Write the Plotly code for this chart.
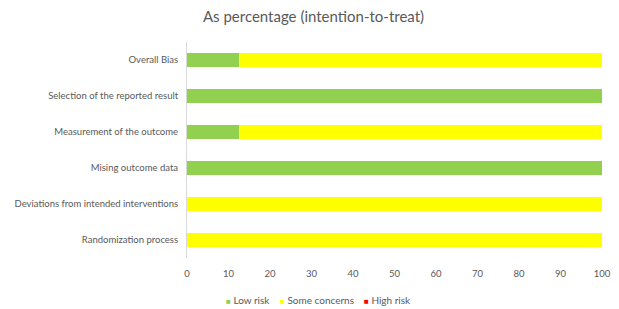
import plotly.graph_objects as go

categories = ["Randomization process", "Deviations from intended interventions",
              "Mising outcome data", "Measurement of the outcome",
              "Selection of the reported result", "Overall Bias"]
low_risk = [0, 0, 100, 12.5, 100, 12.5]
some_concerns = [100, 100, 0, 87.5, 0, 87.5]
high_risk = [0, 0, 0, 0, 0, 0]
series_names = ["Low risk", "Some concerns", "High risk"]
series_colors = ["#92D050", "#FFFF00", "#FF0000"]
x_ticks = list(range(0, 101, 10))

FONT = "Lato"
TXT = "#595959"
fig = go.Figure()
for name, vals, col in zip(series_names, [low_risk, some_concerns, high_risk], series_colors):
    fig.add_trace(go.Bar(y=categories, x=vals, name=name, orientation="h",
                         marker=dict(color=col, line=dict(width=0))))

# custom compact legend (Excel-like small square swatches)
legend_x = [0.089, 0.219, 0.421]
for name, col, lx in zip(series_names, series_colors, legend_x):
    fig.add_annotation(
        xref="paper", yref="paper", x=lx, y=-0.194, xanchor="left", yanchor="middle",
        showarrow=False,
        text=f"<span style='color:{col};font-size:8px'>■</span> {name}",
        font=dict(family=FONT, size=10, color=TXT))

fig.update_layout(
    barmode="stack", bargap=0.6,
    width=611, height=301,
    margin=dict(l=179, r=17, t=34, b=51, autoexpand=False),
    paper_bgcolor="white", plot_bgcolor="white",
    font=dict(family=FONT, size=9.5, color=TXT),
    title=dict(text="As percentage (intention-to-treat)", x=0.5, xanchor="center",
               y=0.970, yanchor="middle", font=dict(family=FONT, size=15, color=TXT)),
    xaxis=dict(range=[0, 100], tickvals=x_ticks, showgrid=False, zeroline=False,
               showline=False, ticks="", automargin=False, ticklabelstandoff=8,
               tickfont=dict(size=9.5, color=TXT)),
    yaxis=dict(showline=True, linecolor="#D9D9D9", linewidth=1, ticks="",
               automargin=False, ticklabelstandoff=6,
               tickfont=dict(size=9.5, color=TXT)),
    showlegend=False,
)
fig.write_html("out.html")
